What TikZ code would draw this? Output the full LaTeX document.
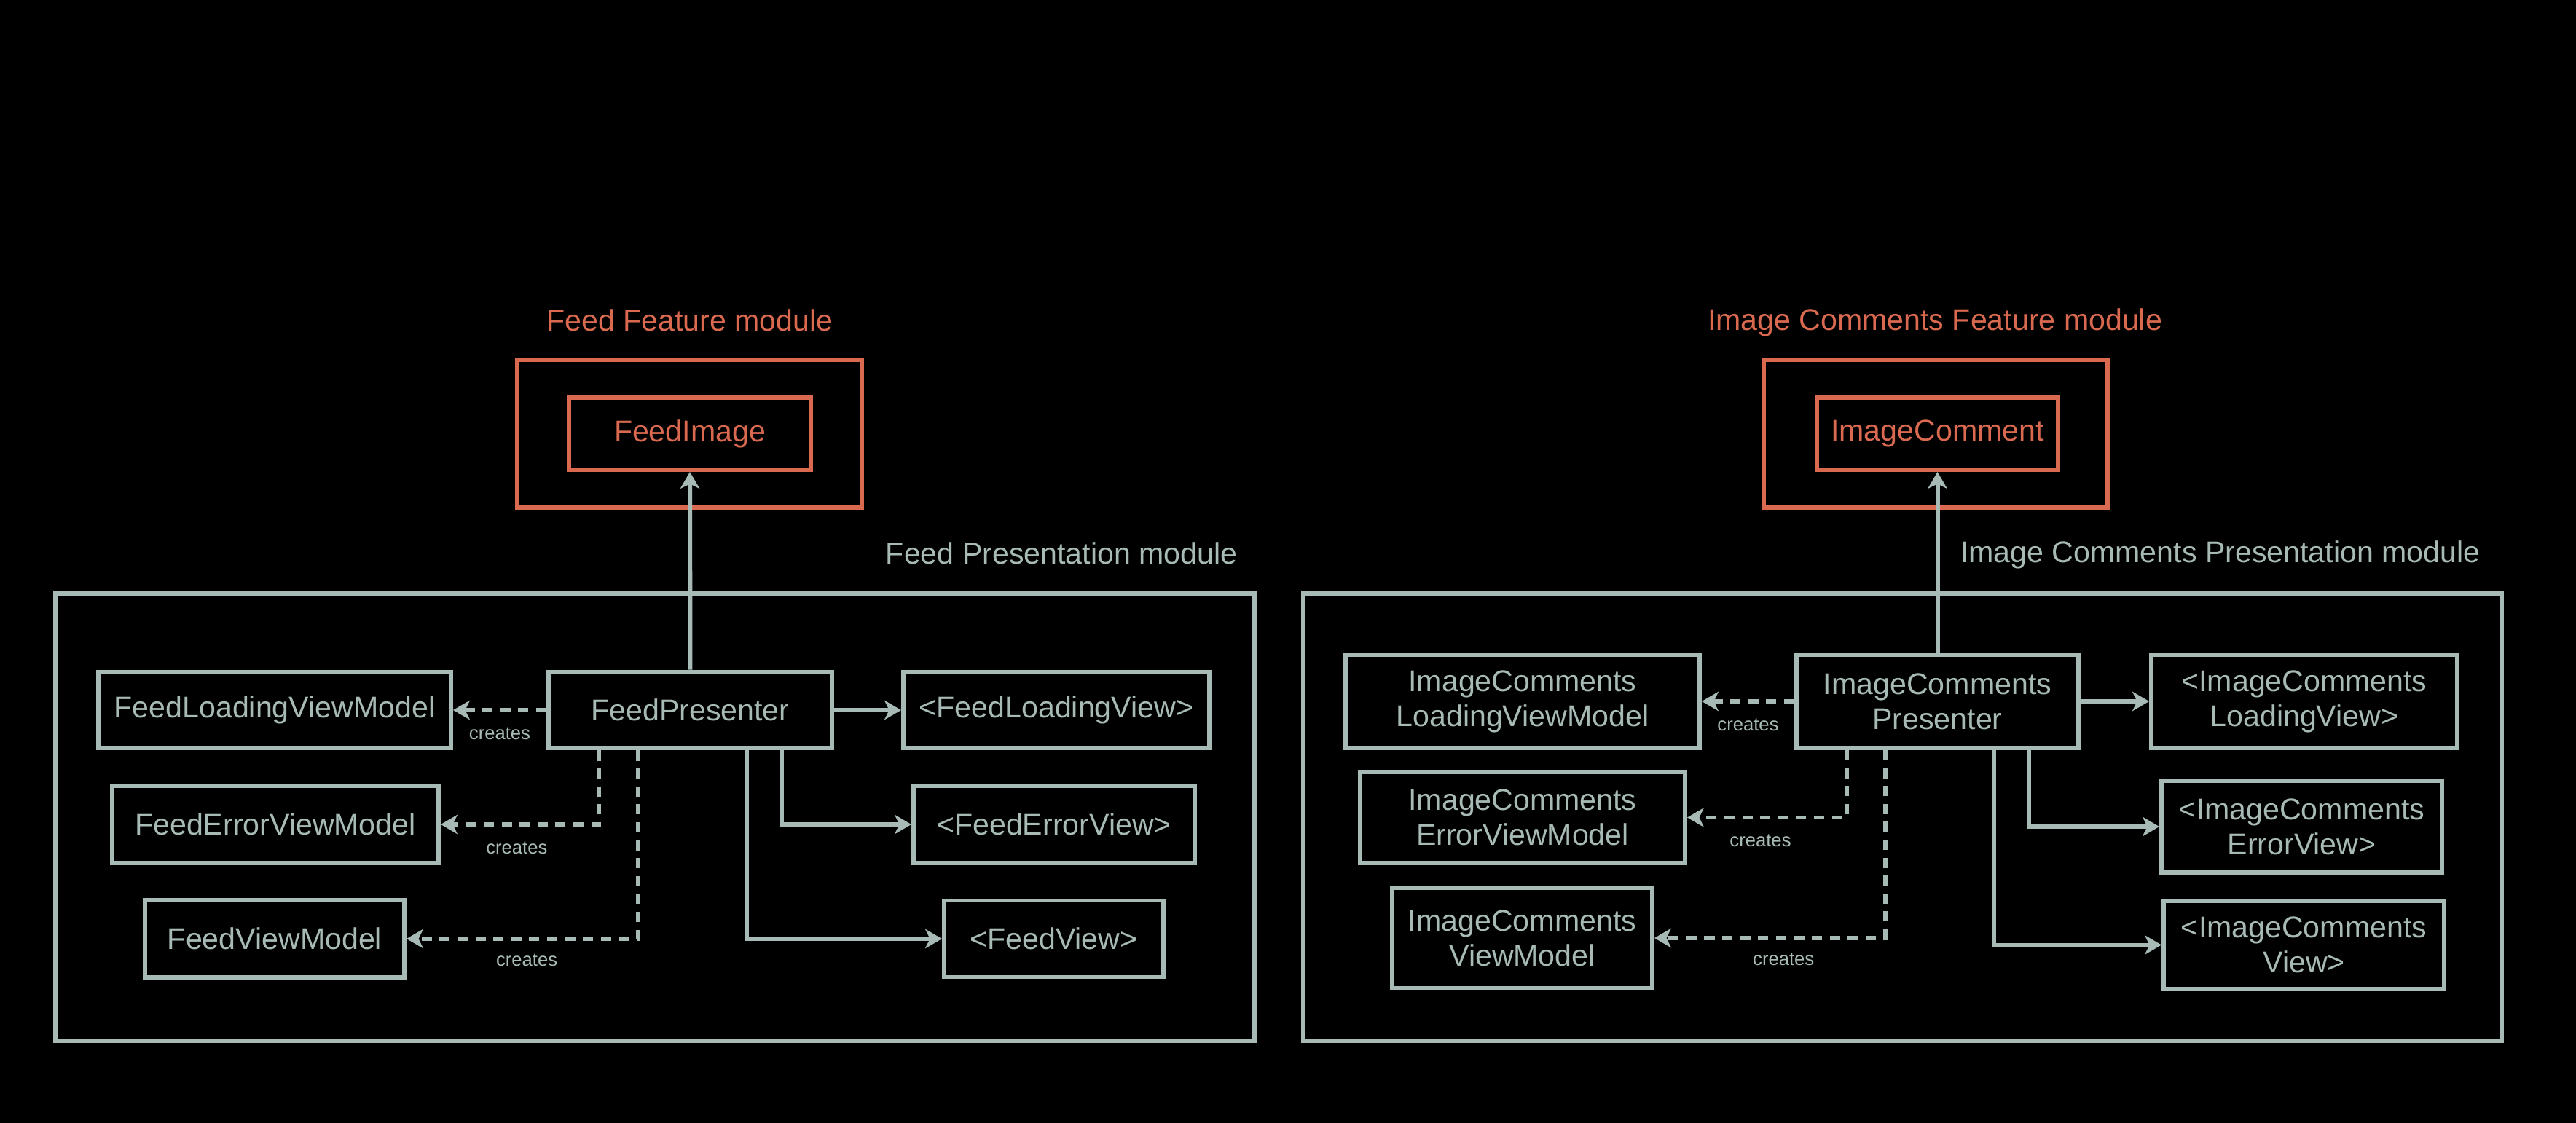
\documentclass[tikz,border=0pt]{standalone}
\usepackage{fontspec}
\setmainfont{Liberation Sans}
\usepackage{xcolor}
\usepackage{tikz}
\usetikzlibrary{positioning}
\usetikzlibrary{arrows.meta}
\definecolor{slate}{RGB}{167,186,181}
\definecolor{rust}{RGB}{217,105,79}

\begin{document}
\begin{tikzpicture}[
  line width=1.7pt,
  box/.style={draw=slate, text=slate, inner sep=0pt, align=center, font=\fontsize{11.7pt}{13.7pt}\selectfont},
  featbox/.style={box, draw=rust, text=rust},
  modlabel/.style={font=\fontsize{11.7pt}{13.7pt}\selectfont},
  uses/.style={draw=slate, -{Stealth[length=6.5pt,width=7.5pt,inset=1.8pt]}},
  creates/.style={uses, dash pattern=on 4pt off 3pt},
  lbl/.style={text=slate, font=\fontsize{7.3pt}{8.5pt}\selectfont}
]
\fill[black] (0,0) rectangle (35.36,-15.42);
\useasboundingbox (0,0) rectangle (35.36,-15.42);

% Feed feature + presentation
\node [modlabel, text=rust] (feedtitle) at (9.47,-4.40) {Feed Feature module};
\node [featbox, minimum width=4.73cm, minimum height=2.03cm] (feedmod) at (9.46,-5.955) {};
\node [featbox, minimum width=3.32cm, minimum height=0.99cm] (feedimage) at (9.47,-5.955) {FeedImage};
\node [box, minimum width=16.46cm, minimum height=6.14cm] (feedpres) at (8.99,-11.22) {};
\node [modlabel, text=slate, anchor=east] (feedprestitle) at (17.13,-7.60) {Feed Presentation module};

\node [box, minimum width=3.89cm, minimum height=1.05cm] (feedpresenter) at (9.475,-9.75) {FeedPresenter};
\node [box, minimum width=4.84cm, minimum height=1.05cm] (feedloadingvm) at (3.77,-9.75) {FeedLoadingViewModel};
\node [box, minimum width=4.20cm, minimum height=1.05cm] (feedloadingview) at (14.50,-9.75) {<FeedLoadingView>};
\node [box, minimum width=4.48cm, minimum height=1.06cm] (feederrorvm) at (3.78,-11.32) {FeedErrorViewModel};
\node [box, minimum width=3.86cm, minimum height=1.06cm] (feederrorview) at (14.47,-11.32) {<FeedErrorView>};
\node [box, minimum width=3.56cm, minimum height=1.06cm] (feedvm) at (3.77,-12.89) {FeedViewModel};
\node [box, minimum width=3.01cm, minimum height=1.05cm] (feedview) at (14.465,-12.89) {<FeedView>};

\draw [uses] (feedpresenter.north) -- (feedimage.south);
\draw [creates] (feedpresenter.west) -- node[lbl, below=2.5pt] (fc1) {creates} (feedloadingvm.east);
\draw [creates] ([xshift=-1.25cm]feedpresenter.south) |- node[lbl, pos=0.76, below=2.5pt] (fc2) {creates} (feederrorvm.east);
\draw [creates] ([xshift=-0.72cm]feedpresenter.south) |- node[lbl, pos=0.74, below=1.8pt] (fc3) {creates} (feedvm.east);
\draw [uses] (feedpresenter.east) -- (feedloadingview.west);
\draw [uses] ([xshift=1.25cm]feedpresenter.south) |- (feederrorview.west);
\draw [uses] ([xshift=0.77cm]feedpresenter.south) |- (feedview.west);

% Image comments feature + presentation
\node [modlabel, text=rust] (ictitle) at (26.56,-4.43) {Image Comments Feature module};
\node [featbox, minimum width=4.72cm, minimum height=2.03cm] (icmod) at (26.57,-5.955) {};
\node [featbox, minimum width=3.31cm, minimum height=0.99cm] (imagecomment) at (26.595,-5.955) {ImageComment};
\node [box, minimum width=16.45cm, minimum height=6.14cm] (icpres) at (26.115,-11.22) {};
\node [modlabel, text=slate, anchor=east] (icprestitle) at (34.19,-7.62) {Image Comments Presentation module};

\node [box, minimum width=3.87cm, minimum height=1.28cm] (icpresenter) at (26.595,-9.63) {ImageComments\\Presenter};
\node [box, minimum width=4.86cm, minimum height=1.28cm] (icloadingvm) at (20.90,-9.63) {ImageComments\\LoadingViewModel};
\node [box, minimum width=4.20cm, minimum height=1.28cm] (icloadingview) at (31.63,-9.63) {<ImageComments\\LoadingView>};
\node [box, minimum width=4.46cm, minimum height=1.25cm] (icerrorvm) at (20.90,-11.225) {ImageComments\\ErrorViewModel};
\node [box, minimum width=3.85cm, minimum height=1.26cm] (icerrorview) at (31.595,-11.35) {<ImageComments\\ErrorView>};
\node [box, minimum width=3.57cm, minimum height=1.38cm] (icvm) at (20.895,-12.88) {ImageComments\\ViewModel};
\node [box, minimum width=3.85cm, minimum height=1.21cm] (icview) at (31.625,-12.975) {<ImageComments\\View>};

\draw [uses] (icpresenter.north) -- (imagecomment.south);
\draw [creates] (icpresenter.west) -- node[lbl, below=2.5pt] (ic1) {creates} (icloadingvm.east);
\draw [creates] ([xshift=-1.25cm]icpresenter.south) |- node[lbl, pos=0.77, below=2.5pt] (ic2) {creates} (icerrorvm.east);
\draw [creates] ([xshift=-0.72cm]icpresenter.south) |- node[lbl, pos=0.72, below=1.8pt] (ic3) {creates} (icvm.east);
\draw [uses] (icpresenter.east) -- (icloadingview.west);
\draw [uses] ([xshift=1.25cm]icpresenter.south) |- (icerrorview.west);
\draw [uses] ([xshift=0.77cm]icpresenter.south) |- (icview.west);
\end{tikzpicture}
\end{document}
